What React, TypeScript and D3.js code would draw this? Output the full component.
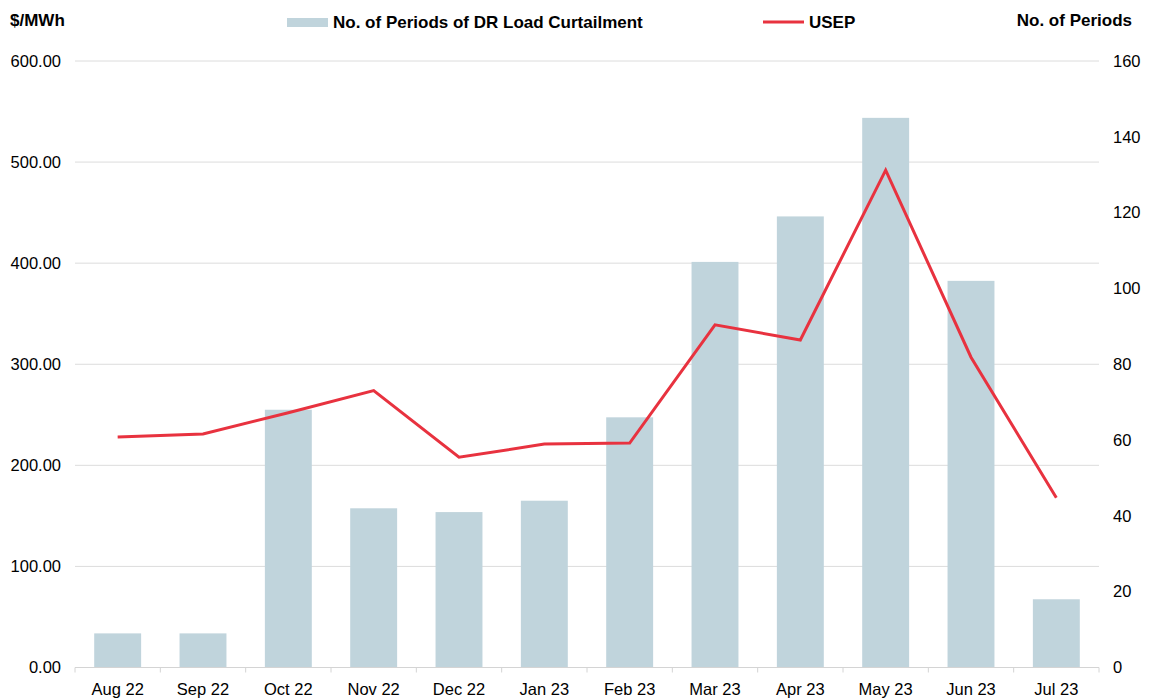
import React from "react";
import * as d3 from "d3";

const months = ["Aug 22","Sep 22","Oct 22","Nov 22","Dec 22","Jan 23","Feb 23","Mar 23","Apr 23","May 23","Jun 23","Jul 23"];
const periods = [9, 9, 68, 42, 41, 44, 66, 107, 119, 145, 102, 18];
const usep = [228, 231, 252, 274, 208, 221, 222, 339, 324, 492, 307, 168];
const leftTicks = [0, 100, 200, 300, 400, 500, 600];
const rightTicks = [0, 20, 40, 60, 80, 100, 120, 140, 160];

export default function App() {
  const W = 1151, H = 700;
  const x0 = 75, x1 = 1099, yTop = 61, yBot = 667.5;
  const x = d3.scaleBand<string>().domain(months).range([x0, x1]).paddingInner(0.45).paddingOuter(0.225);
  const xb = d3.scaleBand<string>().domain(months).range([x0, x1]);
  const yL = d3.scaleLinear().domain([0, 600]).range([yBot, yTop]);
  const yR = d3.scaleLinear().domain([0, 160]).range([yBot, yTop]);
  const line = d3.line<number>().x((_, i) => (xb(months[i]) as number) + xb.bandwidth() / 2).y(d => yL(d));
  const font = "'Liberation Sans', Arial, sans-serif";
  const barColor = "#c0d4dc";
  const lineColor = "#e8323f";
  return (
    <svg width={W} height={H} style={{ position: "absolute", left: 0, top: 0 }} fontFamily={font}>
      {leftTicks.slice(1).map(t => (
        <line key={t} x1={x0} x2={x1} y1={yL(t)} y2={yL(t)} stroke="#dcdcdc" strokeWidth={1} />
      ))}
      {months.map((m, i) => (
        <rect key={m} x={x(m)} y={yR(periods[i])} width={x.bandwidth()} height={yR(0) - yR(periods[i])} fill={barColor} />
      ))}
      <line x1={x0} x2={x1} y1={yBot} y2={yBot} stroke="#d4d4d4" strokeWidth={1} />
      {months.concat([""]).map((m, i) => {
        const xx = x0 + i * xb.step();
        return <line key={"t" + i} x1={xx} x2={xx} y1={yBot} y2={yBot + 5} stroke="#d4d4d4" />;
      })}
      <path d={line(usep) || ""} fill="none" stroke={lineColor} strokeWidth={3} strokeLinejoin="miter" />
      {leftTicks.map(t => (
        <text key={t} x={61} y={yL(t)} dy="0.35em" textAnchor="end" fontSize={16.5} fill="#000">{t.toFixed(2)}</text>
      ))}
      {rightTicks.map(t => (
        <text key={t} x={1113} y={yR(t)} dy="0.35em" textAnchor="start" fontSize={16.5} fill="#000">{t}</text>
      ))}
      {months.map(m => (
        <text key={m} x={(xb(m) as number) + xb.bandwidth() / 2} y={689} dy="0.35em" textAnchor="middle" fontSize={16.5} fill="#000">{m}</text>
      ))}
      <text x={10} y={20} dy="0.35em" fontSize={17} fontWeight="bold">$/MWh</text>
      <text x={1132} y={20} dy="0.35em" textAnchor="end" fontSize={17} fontWeight="bold">No. of Periods</text>
      <rect x={287} y={18} width={41} height={9} fill={barColor} />
      <text x={333} y={22} dy="0.35em" fontSize={17} fontWeight="bold">No. of Periods of DR Load Curtailment</text>
      <line x1={763} x2={804} y1={22} y2={22} stroke={lineColor} strokeWidth={3} />
      <text x={809} y={22} dy="0.35em" fontSize={17} fontWeight="bold">USEP</text>
    </svg>
  );
}
